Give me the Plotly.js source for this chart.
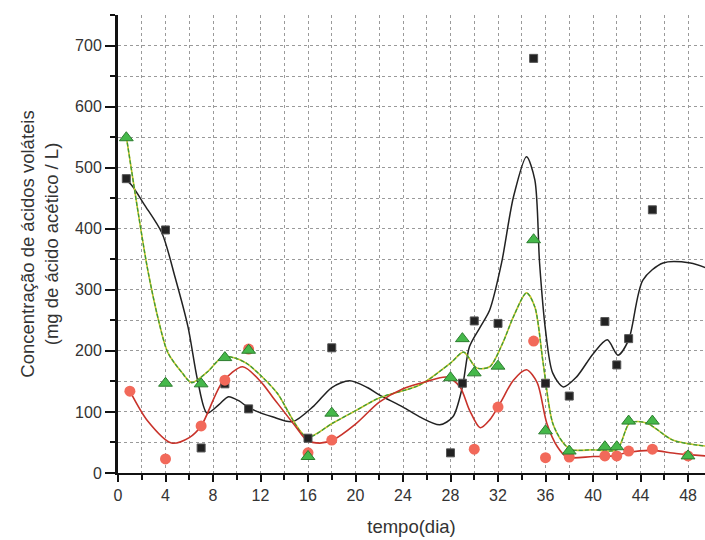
<!DOCTYPE html>
<html><head><meta charset="utf-8">
<script src="https://cdn.plot.ly/plotly-3.0.1.min.js"></script>
<style>html,body{margin:0;padding:0;background:#fff}</style>
</head><body><div id="chart" style="width:705px;height:540px"></div>
<script>
// Measured points
const blackDays = [0.7, 4, 7, 9, 11, 16, 18, 28, 29, 30, 32, 35, 36, 38, 41, 42, 43, 45];
const blackVals = [482, 398, 41, 146, 105, 57, 205, 33, 147, 249, 245, 679, 147, 126, 248, 177, 220, 431];

const redDays = [1, 4, 7, 9, 11, 16, 18, 30, 32, 35, 36, 38, 41, 42, 43, 45, 48];
const redVals = [134, 23, 77, 152, 203, 33, 54, 39, 108, 216, 25, 26, 28, 28, 36, 39, 28];

const greenDays = [0.7, 4, 7, 9, 11, 16, 18, 28, 29, 30, 32, 35, 36, 38, 41, 42, 43, 45, 48];
const greenVals = [549, 147, 146, 189, 201, 27, 98, 156, 220, 164, 175, 382, 69, 36, 43, 43, 85, 85, 28];

// Smoothed fitted curves
const blackCurveDays = [0.6, 1.2, 2.2, 3.7, 4.8, 5.9, 6.7, 7.5, 8.5, 9.3, 10.2, 11, 13, 14.7, 16.5, 18, 19.5, 21, 22, 24, 25.4, 27.1, 28.2, 29, 29.6, 30.5, 31.3, 32.3, 33.3, 34.4, 35.1, 35.5, 36, 36.6, 37.5, 38.6, 40, 41.2, 42.1, 43, 44.2, 45.9, 48.2, 49.5];
const blackCurveVals = [482, 470, 440, 393, 321, 239, 152, 98, 112, 125, 118, 107, 92, 84, 110, 140, 151, 140, 128, 108, 92, 79, 92, 141, 207, 239, 267, 344, 452, 518, 480, 344, 234, 164, 141, 157, 195, 218, 193, 218, 316, 344, 344, 336];

const redCurveDays = [1, 2.5, 4.5, 6, 7, 8.8, 10.5, 12, 13, 15, 15.9, 17, 18.1, 20, 22, 24, 26, 27.7, 28.8, 29.6, 30.5, 31.3, 32.2, 33.3, 34.4, 35.3, 36.1, 37, 37.8, 40, 41.7, 43, 45, 47, 49.5];
const redCurveVals = [134, 85, 49, 58, 77, 149, 174, 150, 125, 75, 54, 49, 54, 80, 116, 138, 150, 157, 141, 103, 74, 87, 115, 152, 169, 148, 82, 43, 26, 27, 28, 34, 37, 32, 28];

const greenCurveDays = [0.7, 1.7, 2.5, 3.4, 4.2, 5.4, 6.2, 7.5, 8.8, 9.7, 10.8, 12, 13.4, 15.9, 18.1, 20, 22, 25.4, 28, 29.1, 30.2, 31.3, 32.4, 33.3, 34.4, 35.1, 35.8, 36.6, 37.5, 38.2, 40, 42, 43.1, 44.5, 46.7, 49.5];
const greenCurveVals = [551, 426, 333, 251, 197, 164, 148, 165, 190, 189, 180, 160, 131, 59, 82, 102, 123, 144, 180, 198, 172, 174, 213, 256, 295, 272, 180, 82, 49, 38, 38, 38, 82, 82, 54, 44];

const traces = [
  {x: blackCurveDays, y: blackCurveVals, mode: 'lines', line: {color: '#222', width: 1.5, shape: 'spline', smoothing: 0.8}, hoverinfo: 'skip'},
  {x: greenCurveDays, y: greenCurveVals, mode: 'lines', line: {color: '#c9c42a', width: 1.6, shape: 'spline', smoothing: 0.8}, hoverinfo: 'skip'},
  {x: greenCurveDays, y: greenCurveVals, mode: 'lines', line: {color: '#3a9a3a', width: 1.3, dash: '4px,2px', shape: 'spline', smoothing: 0.8}, hoverinfo: 'skip'},
  {x: redCurveDays, y: redCurveVals, mode: 'lines', line: {color: '#c8322a', width: 1.6, shape: 'spline', smoothing: 0.8}, hoverinfo: 'skip'},
  {x: blackDays, y: blackVals, mode: 'markers', marker: {symbol: 'square', size: 8, color: '#222', line: {color: '#555', width: 1}}},
  {x: redDays, y: redVals, mode: 'markers', marker: {symbol: 'circle', size: 11, color: '#f2695a', line: {width: 0}}},
  {x: greenDays, y: greenVals, mode: 'markers', marker: {symbol: 'triangle-up', size: 12, color: '#45b84a', line: {color: '#2c7d2f', width: 1}}}
];

const gridStyle = {gridcolor: '#9a9a9a', griddash: 'dot', gridwidth: 1};

const layout = {
  width: 705, height: 540,
  margin: {l: 118, r: 0, t: 15, b: 67},
  paper_bgcolor: '#fff', plot_bgcolor: '#fff',
  showlegend: false,
  font: {family: 'Liberation Sans, Arial, sans-serif', color: '#333'},
  xaxis: {
    range: [0, 49.43], tick0: 0, dtick: 4,
    ticks: 'outside', ticklen: 7, tickwidth: 2, tickcolor: '#111',
    showline: true, linecolor: '#111', linewidth: 2,
    showgrid: true, ...gridStyle, zeroline: false,
    minor: {dtick: 2, ticks: 'outside', ticklen: 5, tickwidth: 2, tickcolor: '#111', showgrid: true, ...gridStyle},
    tickfont: {size: 16, color: '#333'},
    title: {text: 'tempo(dia)', font: {size: 18.5, color: '#333'}, standoff: 17}
  },
  yaxis: {
    range: [0, 750], tick0: 0, dtick: 100,
    ticks: 'outside', ticklen: 10, tickwidth: 2, tickcolor: '#111',
    showline: true, linecolor: '#111', linewidth: 3,
    showgrid: true, ...gridStyle, zeroline: false,
    minor: {dtick: 50, ticks: 'outside', ticklen: 5, tickwidth: 2, tickcolor: '#111', showgrid: true, ...gridStyle},
    tickfont: {size: 16, color: '#333'},
    title: {text: 'Concentração de ácidos voláteis<br>(mg de ácido acético / L)', font: {size: 18.5, color: '#333'}, standoff: 12}
  }
};

Plotly.newPlot('chart', traces, layout, {displayModeBar: false, staticPlot: true});
</script>
</body></html>
